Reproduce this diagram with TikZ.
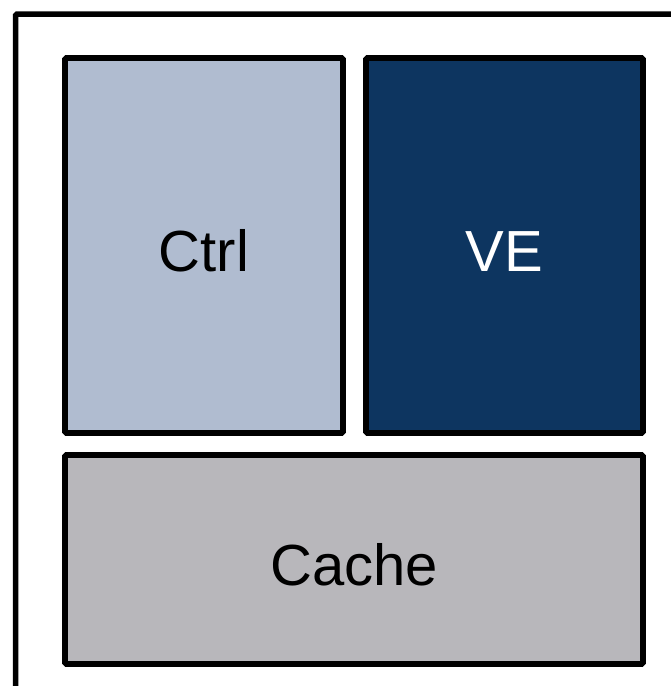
\documentclass[tikz,border=0pt]{standalone}
\usepackage{fontspec}
\setmainfont{Liberation Sans}
\definecolor{ctrlfill}{HTML}{B0BCD0}
\definecolor{vefill}{HTML}{0D3560}
\definecolor{cachefill}{HTML}{B8B7BB}
\tikzset{
  unit/.style={draw=black, line width=5.8pt, rounded corners=1.5pt, inner sep=0pt,
    font=\fontsize{58}{60}\selectfont},
}
% place a label so that its baseline sits #1 below the box centre
\newcommand{\unitlabel}[2]{\raisebox{-#1}[0pt][0pt]{#2}}
\begin{document}
\begin{tikzpicture}[x=1pt, y=-1pt]
  \useasboundingbox (0,0) rectangle (671,686);
  \fill[white] (0,0) rectangle (671,686);
  % outer frame, running past the right and bottom edges
  \begin{scope}
    \clip (0,0) rectangle (671,686);
    \draw[line width=5.5pt, rounded corners=1.5pt] (15.5,14) rectangle (700,720);
  \end{scope}
  \node[unit, fill=ctrlfill, minimum width=278pt, minimum height=375pt] (ctrl) at (204,245.5) {\unitlabel{25.5pt}{Ctrl}};
  \node[unit, fill=vefill, text=white, minimum width=277pt, minimum height=375pt] (ve) at (504.5,245.5) {\unitlabel{25.5pt}{VE}};
  \node[unit, fill=cachefill, minimum width=578pt, minimum height=209pt] (cache) at (354,559.5) {\unitlabel{26pt}{Cache}};
\end{tikzpicture}
\end{document}
